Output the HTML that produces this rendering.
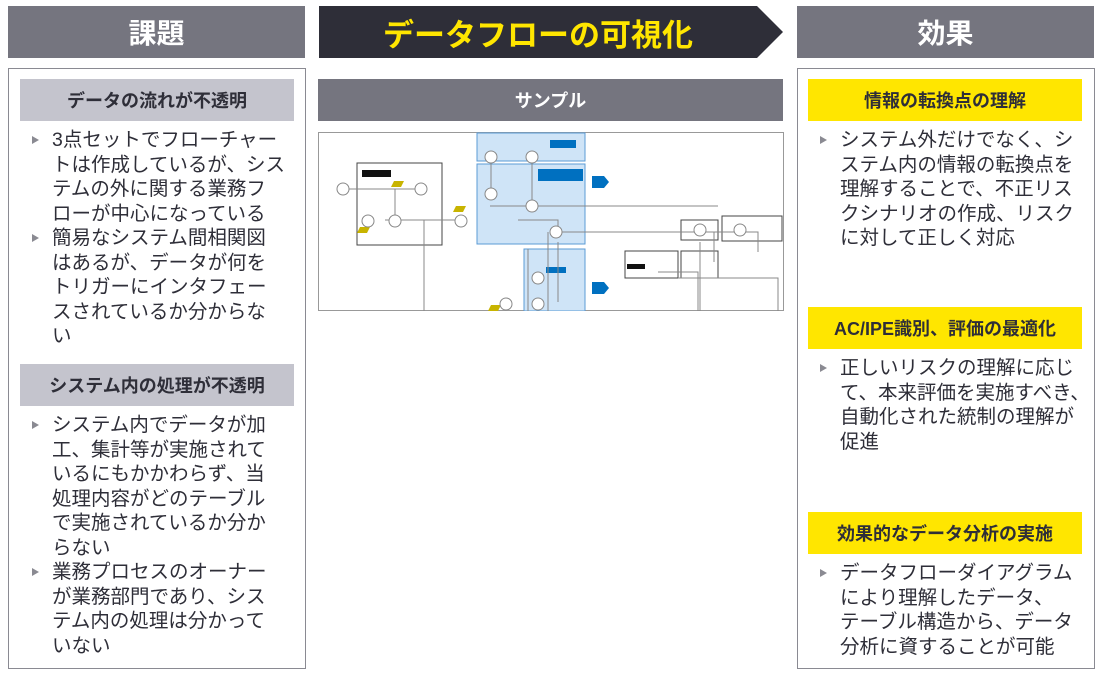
<!DOCTYPE html>
<html><head><meta charset="utf-8"><style>
body{margin:0;width:1099px;height:674px;background:#fff;position:relative;overflow:hidden;font-family:"Liberation Sans","Noto Sans CJK JP",sans-serif}
.a{position:absolute}
.hd{background:#75757f;color:#fff;font-weight:bold;font-size:28px;display:flex;align-items:center;justify-content:center}
.box{border:1px solid #8a8a92;box-sizing:border-box}
.sub{font-weight:bold;font-size:18px;display:flex;align-items:center;justify-content:center;color:#2e2e38}
.gs{background:#c4c4cd}
.ys{background:#ffe600}
ul{list-style:none;margin:0;padding:0;font-size:19.5px;line-height:24.5px;color:#2e2e38;white-space:nowrap}
li{position:relative;padding-left:32px}
li:before{content:"";position:absolute;left:12px;top:8px;border-left:7px solid #8a8a92;border-top:4.5px solid transparent;border-bottom:4.5px solid transparent}
</style></head><body>
<div class="a hd" style="left:8px;top:6px;width:297px;height:52px">課題</div>
<div class="a hd" style="left:797px;top:6px;width:297px;height:52px">効果</div>
<svg class="a" style="left:319px;top:6px" width="466" height="52"><polygon points="0,0 438,0 464,26 438,52 0,52" fill="#2e2e38"/></svg>
<div class="a hd" style="left:319px;top:6px;width:438px;height:52px;background:none;color:#ffe600;font-size:31px">データフローの可視化</div>

<div class="a box" style="left:8px;top:68px;width:298px;height:601px"></div>
<div class="a sub gs" style="left:20px;top:79px;width:274px;height:42px">データの流れが不透明</div>
<ul class="a" style="left:20px;top:128px;width:274px">
<li>3点セットでフローチャー<br>トは作成しているが、シス<br>テムの外に関する業務フ<br>ローが中心になっている</li>
<li>簡易なシステム間相関図<br>はあるが、データが何を<br>トリガーにインタフェー<br>スされているか分からな<br>い</li></ul>
<div class="a sub gs" style="left:20px;top:364px;width:274px;height:42px">システム内の処理が不透明</div>
<ul class="a" style="left:20px;top:413px;width:274px">
<li>システム内でデータが加<br>工、集計等が実施されて<br>いるにもかかわらず、当<br>処理内容がどのテーブル<br>で実施されているか分か<br>らない</li>
<li>業務プロセスのオーナー<br>が業務部門であり、シス<br>テム内の処理は分かって<br>いない</li></ul>

<div class="a sub" style="left:318px;top:79px;width:465px;height:42px;background:#75757f;color:#fff">サンプル</div>
<svg class="a" style="left:318px;top:132px" width="466" height="179" viewBox="0 0 466 179">
<rect x="0.5" y="0.5" width="465" height="178" fill="#fff" stroke="#999"/>
<rect x="159" y="1" width="108" height="28" fill="#cfe4f7" stroke="#5b9bd5"/>
<rect x="159" y="32" width="108" height="80" fill="#cfe4f7" stroke="#5b9bd5"/>
<rect x="206" y="117" width="61" height="62" fill="#cfe4f7" stroke="#5b9bd5"/>
<rect x="39" y="31" width="85" height="82" fill="none" stroke="#444"/>
<rect x="307" y="119" width="53" height="27" fill="none" stroke="#444"/>
<rect x="363" y="119" width="37" height="27" fill="none" stroke="#444"/>
<rect x="363" y="88" width="37" height="20" fill="none" stroke="#444"/>
<rect x="404" y="84" width="60" height="25" fill="none" stroke="#444"/>
<rect x="232" y="8" width="26" height="8" fill="#0070c0"/>
<rect x="220" y="37" width="45" height="12" fill="#0070c0"/>
<rect x="228" y="135" width="20" height="6" fill="#0070c0"/>
<polygon points="274,44 286,44 291,50 286,56 274,56" fill="#0070c0"/>
<polygon points="274,150 286,150 291,156 286,162 274,162" fill="#0070c0"/>
<rect x="44" y="38" width="29" height="7" fill="#111"/>
<rect x="309" y="132" width="18" height="5" fill="#111"/>
<polygon points="76,49 86,49 83,55 73,55" fill="#c8b400"/>
<polygon points="42,95 52,95 49,101 39,101" fill="#c8b400"/>
<polygon points="138,74 148,74 145,80 135,80" fill="#c8b400"/>
<polygon points="173,173 183,173 180,179 170,179" fill="#c8b400"/>
<g fill="none" stroke="#888" stroke-width="1">
<path d="M25 57H103M77 57V90M67 88H143M106 88V179M200 88H240V100M173 25V62M214 25V74M172 74H214M214 74H400M240 100H440V120M240 110V170M230 100V179M210 117V179M340 140H380V179M382 110V179M360 146H460V179M396 100V130"/>
</g>
<g fill="#fff" stroke="#888">
<circle cx="25" cy="57" r="6"/><circle cx="103" cy="57" r="6"/><circle cx="50" cy="89" r="6"/><circle cx="77" cy="89" r="6"/><circle cx="143" cy="89" r="6"/>
<circle cx="173" cy="25" r="6"/><circle cx="214" cy="25" r="6"/><circle cx="173" cy="62" r="6"/><circle cx="214" cy="74" r="6"/><circle cx="238" cy="100" r="6"/>
<circle cx="220" cy="146" r="6"/><circle cx="220" cy="172" r="6"/><circle cx="188" cy="172" r="6"/><circle cx="382" cy="98" r="6"/><circle cx="422" cy="98" r="6"/>
</g>
</svg>

<div class="a box" style="left:797px;top:68px;width:298px;height:601px"></div>
<div class="a sub ys" style="left:808px;top:79px;width:274px;height:42px">情報の転換点の理解</div>
<ul class="a" style="left:808px;top:128px;width:274px">
<li>システム外だけでなく、シ<br>ステム内の情報の転換点を<br>理解することで、不正リス<br>クシナリオの作成、リスク<br>に対して正しく対応</li></ul>
<div class="a sub ys" style="left:808px;top:307px;width:274px;height:42px">AC/IPE識別、評価の最適化</div>
<ul class="a" style="left:808px;top:356px;width:274px">
<li>正しいリスクの理解に応じ<br>て、本来評価を実施すべき、<br>自動化された統制の理解が<br>促進</li></ul>
<div class="a sub ys" style="left:808px;top:512px;width:274px;height:42px">効果的なデータ分析の実施</div>
<ul class="a" style="left:808px;top:561px;width:274px">
<li>データフローダイアグラム<br>により理解したデータ、<br>テーブル構造から、データ<br>分析に資することが可能</li></ul>
</body></html>
